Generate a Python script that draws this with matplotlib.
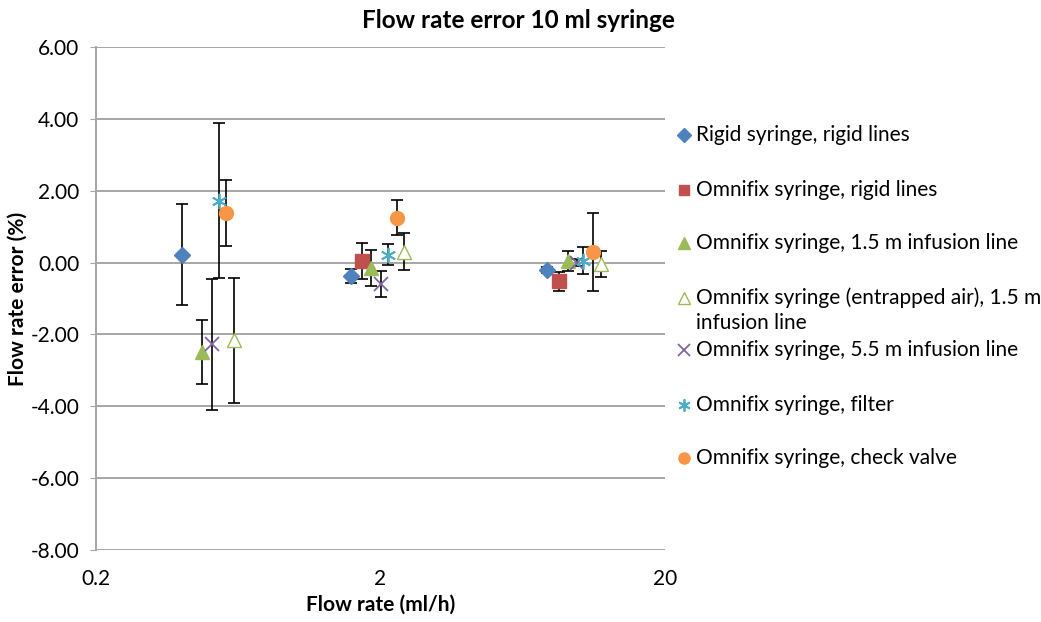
import numpy as np
import matplotlib
matplotlib.use("Agg")
import matplotlib.pyplot as plt

plt.rcParams['font.family'] = ['Lato', 'DejaVu Sans']

# series names (legend order)
series = [
    "Rigid syringe, rigid lines",
    "Omnifix syringe, rigid lines",
    "Omnifix syringe, 1.5 m infusion line",
    "Omnifix syringe (entrapped air), 1.5 m\ninfusion line",
    "Omnifix syringe, 5.5 m infusion line",
    "Omnifix syringe, filter",
    "Omnifix syringe, check valve",
]

# measured flow rate (ml/h), mean error (%) and SD for each series
rigid_x = [0.40, 1.58, 7.7]
rigid_y = [0.22, -0.38, -0.20]
rigid_err = [1.40, 0.20, 0.08]

omni_rigid_x = [1.72, 8.5]
omni_rigid_y = [0.05, -0.52]
omni_rigid_err = [0.50, 0.26]

line15_x = [0.47, 1.85, 9.1]
line15_y = [-2.50, -0.15, 0.05]
line15_err = [0.89, 0.49, 0.28]

air15_x = [0.61, 2.42, 11.9]
air15_y = [-2.16, 0.30, -0.04]
air15_err = [1.74, 0.51, 0.35]

line55_x = [0.51, 2.0, 9.8]
line55_y = [-2.28, -0.60, 0.00]
line55_err = [1.83, 0.36, 0.10]

filter_x = [0.54, 2.13, 10.3]
filter_y = [1.72, 0.22, 0.05]
filter_err = [2.16, 0.30, 0.38]

valve_x = [0.575, 2.28, 11.2]
valve_y = [1.39, 1.25, 0.30]
valve_err = [0.92, 0.49, 1.08]

y_ticks = [6, 4, 2, 0, -2, -4, -6, -8]
x_ticks = [0.2, 2, 20]

data = [
    (rigid_x, rigid_y, rigid_err),
    (omni_rigid_x, omni_rigid_y, omni_rigid_err),
    (line15_x, line15_y, line15_err),
    (air15_x, air15_y, air15_err),
    (line55_x, line55_y, line55_err),
    (filter_x, filter_y, filter_err),
    (valve_x, valve_y, valve_err),
]

# marker styles, Excel 2007 palette
styles = [
    dict(marker='D', ms=8.5, mfc='#4F81BD', mec='#4F81BD'),
    dict(marker='s', ms=9.5, mfc='#C0504D', mec='#C0504D'),
    dict(marker='^', ms=10, mfc='#9BBB59', mec='#9BBB59'),
    dict(marker='^', ms=10, mfc='white', mec='#9BBB59', mew=1.0),
    dict(marker='x', ms=10, mfc='#8064A2', mec='#8064A2', mew=1.3),
    dict(marker=(6, 2, 0), ms=11, mfc='#4BACC6', mec='#4BACC6', mew=1.3),
    dict(marker='o', ms=10, mfc='#F79646', mec='#F79646'),
]

fig = plt.figure(figsize=(10.41, 6.22), dpi=100)
ax = fig.add_axes([96 / 1041, 1 - 550 / 622, (665 - 96) / 1041, (550 - 47) / 622])

ax.set_xscale('log')
ax.set_xlim(0.2, 20)
ax.set_ylim(-8, 6)

for y in y_ticks:
    ax.axhline(y, color='#a6a6a6', lw=1.4, zorder=0)

for (xs, ys, es), st in zip(data, styles):
    ax.errorbar(xs, ys, yerr=es, fmt='none', ecolor='black', elinewidth=1.2,
                capsize=4, capthick=1.2, zorder=2)
    ax.plot(xs, ys, ls='none', zorder=3, **st)

ax.set_yticks(y_ticks)
ax.set_yticklabels([f"{v:.2f}" for v in y_ticks])
ax.set_xticks(x_ticks)
ax.set_xticklabels(["0.2", "2", "20"])
ax.xaxis.set_minor_locator(plt.NullLocator())
ax.tick_params(axis='y', length=4, color='#a6a6a6', labelsize=15, pad=8)
ax.tick_params(axis='x', length=0, labelsize=15, pad=14)

for s in ['top', 'right', 'bottom']:
    ax.spines[s].set_visible(False)
ax.spines['left'].set_color('#a6a6a6')
ax.spines['left'].set_linewidth(1.4)

ax.set_xlabel("Flow rate (ml/h)", fontsize=15, fontweight='bold', labelpad=4)
ax.set_ylabel("Flow rate error (%)", fontsize=15, fontweight='bold', labelpad=2)
fig.suptitle("Flow rate error 10 ml syringe", x=518 / 1041, y=1 - 21 / 622, va='center',
             fontsize=17.5, fontweight='bold')

# legend drawn in its own pixel-coordinate axes so the two-line entry keeps
# its marker on the first line
lax = fig.add_axes([0, 0, 1, 1], facecolor='none')
lax.set_xlim(0, 1041)
lax.set_ylim(622, 0)
lax.axis('off')
legend_rows = [135, 190, 243, 298, 350, 405, 458]
for label, st, row in zip(series, styles, legend_rows):
    lst = dict(st)
    lst['ms'] = lst['ms'] * 0.8
    lax.plot([684], [row], ls='none', **lst)
    lines = label.split('\n')
    for i, part in enumerate(lines):
        lax.text(696, row + 25 * i, part, fontsize=15, va='center', ha='left')

fig.savefig("out.png", dpi=100)
